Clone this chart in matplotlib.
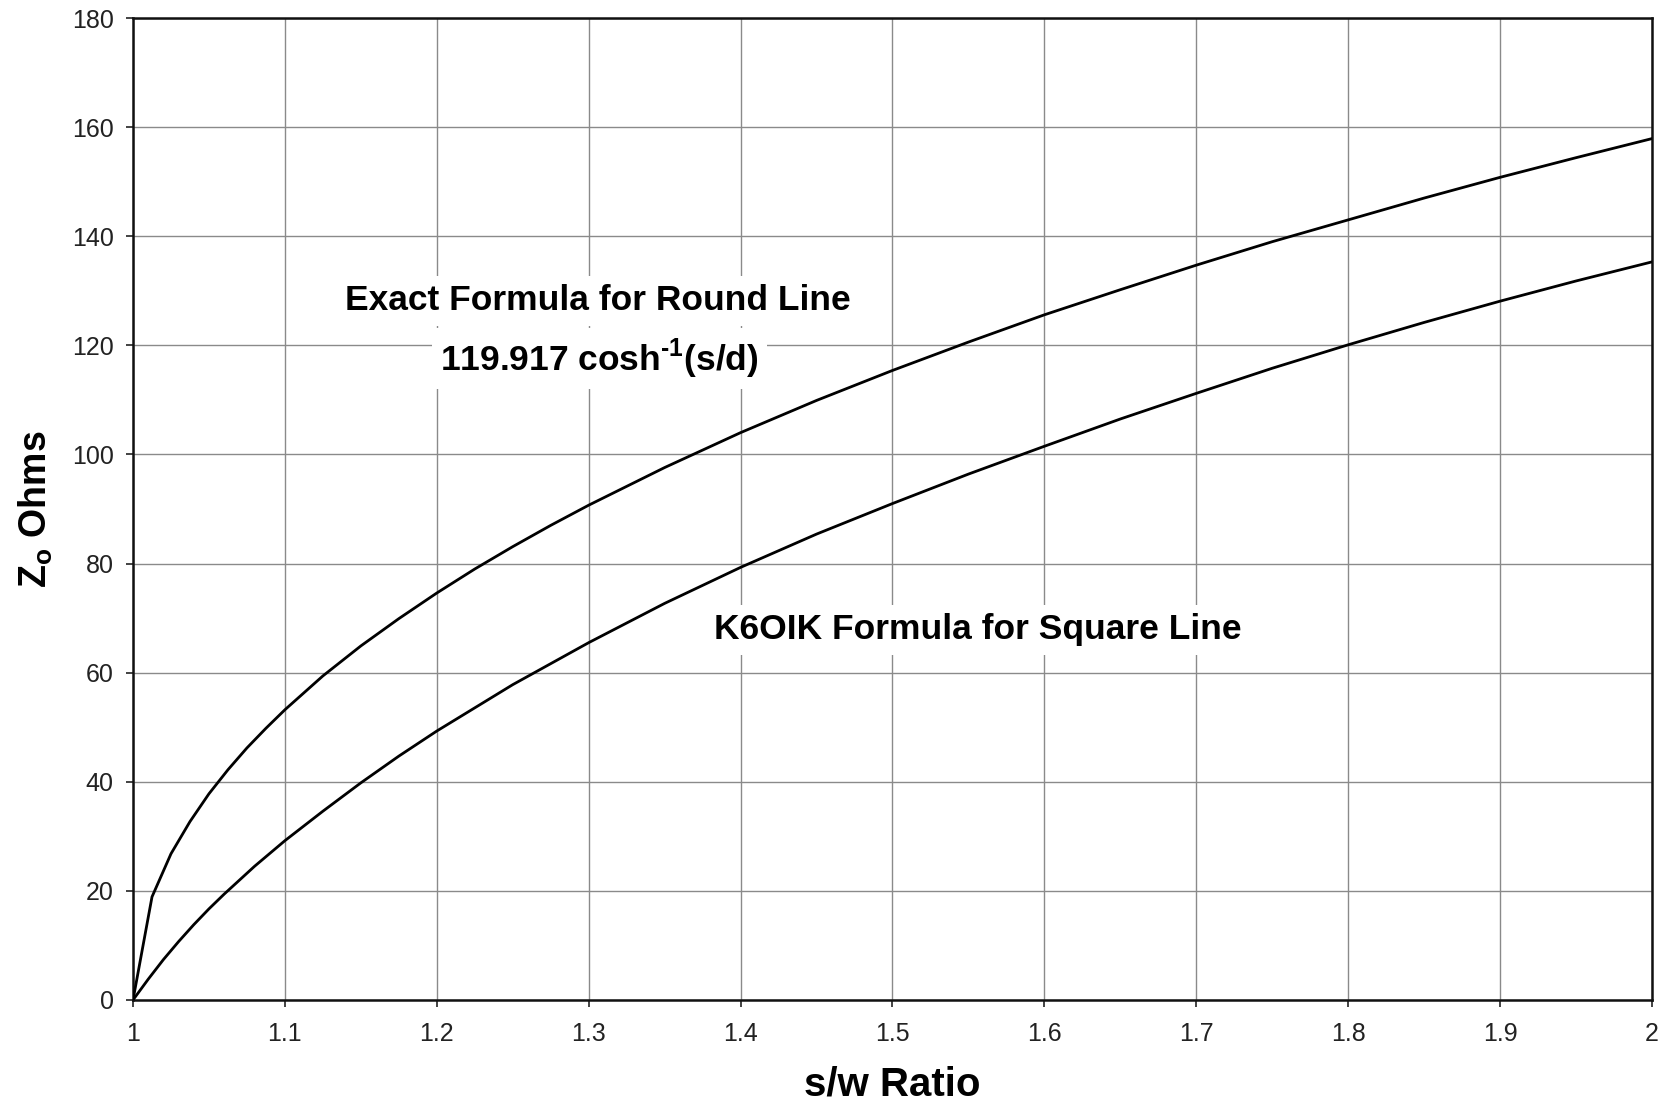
import matplotlib
matplotlib.use('Agg')
import matplotlib.pyplot as plt

plt.rcParams['font.family'] = ['Liberation Sans', 'DejaVu Sans']

# exact formula for round line
s_round = [1.0, 1.0125, 1.025, 1.0375, 1.05, 1.0625, 1.075, 1.0875, 1.1, 1.125, 1.15, 1.175,
           1.2, 1.225, 1.25, 1.275, 1.3, 1.35, 1.4, 1.45, 1.5, 1.55, 1.6, 1.65, 1.7, 1.75,
           1.8, 1.85, 1.9, 1.95, 2.0]
z_round = [0, 18.9, 26.8, 32.7, 37.8, 42.2, 46.2, 49.8, 53.2, 59.4, 64.9, 69.9,
           74.6, 79.0, 83.1, 87.0, 90.7, 97.6, 104.0, 109.9, 115.4, 120.6, 125.6, 130.2, 134.7, 139.0,
           143.0, 147.0, 150.8, 154.4, 157.9]

# K6OIK formula for square line
s_square = [1.0, 1.01, 1.02, 1.03, 1.04, 1.05, 1.06, 1.08, 1.1, 1.125, 1.15, 1.175, 1.2, 1.25,
            1.3, 1.35, 1.4, 1.45, 1.5, 1.55, 1.6, 1.65, 1.7, 1.75, 1.8, 1.85, 1.9, 1.95, 2.0]
z_square = [0, 3.8, 7.4, 10.7, 13.8, 16.7, 19.4, 24.5, 29.2, 34.6, 39.8, 44.7, 49.3, 57.8,
            65.5, 72.7, 79.3, 85.4, 91.0, 96.4, 101.5, 106.5, 111.2, 115.8, 120.1, 124.2, 128.1, 131.8, 135.3]

x_ticks = [1, 1.1, 1.2, 1.3, 1.4, 1.5, 1.6, 1.7, 1.8, 1.9, 2]
x_tick_labels = ['1', '1.1', '1.2', '1.3', '1.4', '1.5', '1.6', '1.7', '1.8', '1.9', '2']
y_ticks = [0, 20, 40, 60, 80, 100, 120, 140, 160, 180]

fig = plt.figure(figsize=(16.69, 11.07), dpi=100)
ax = fig.add_axes([0.0797, 0.0967, 0.9101, 0.887])

ax.plot(s_round, z_round, color='black', lw=2.0, zorder=3, solid_joinstyle='round')
ax.plot(s_square, z_square, color='black', lw=2.0, zorder=3, solid_joinstyle='round')

ax.set_xlim(1, 2)
ax.set_ylim(0, 180)
ax.set_xticks(x_ticks)
ax.set_xticklabels(x_tick_labels)
ax.set_yticks(y_ticks)
ax.tick_params(direction='out', length=5, width=1.2, labelsize=18, colors='#222222')
ax.tick_params(axis='x', pad=11)
ax.tick_params(axis='y', pad=9)

ax.grid(True, color='#8a8a8a', lw=1.0, zorder=0)
for sp in ax.spines.values():
    sp.set_linewidth(1.8)
    sp.set_color('#111111')

ax.set_xlabel('s/w Ratio', fontsize=29, fontweight='bold', labelpad=14)
ax.set_ylabel('Z$_\\mathregular{o}$ Ohms', fontsize=27, fontweight='bold', labelpad=12)

box = dict(facecolor='white', edgecolor='none', pad=6)
ax.text(1.306, 128.2, 'Exact Formula for Round Line', ha='center', va='center',
        fontsize=25.5, fontweight='bold', bbox=box, zorder=2)
ax.text(1.307, 117.6, '119.917 cosh$^\\mathregular{\u2010 1}$(s/d)', ha='center', va='center',
        fontsize=25.5, fontweight='bold', bbox=box, zorder=2)
ax.text(1.556, 67.9, 'K6OIK Formula for Square Line', ha='center', va='center',
        fontsize=25.5, fontweight='bold', bbox=box, zorder=2)

fig.savefig('out.png', dpi=100)
